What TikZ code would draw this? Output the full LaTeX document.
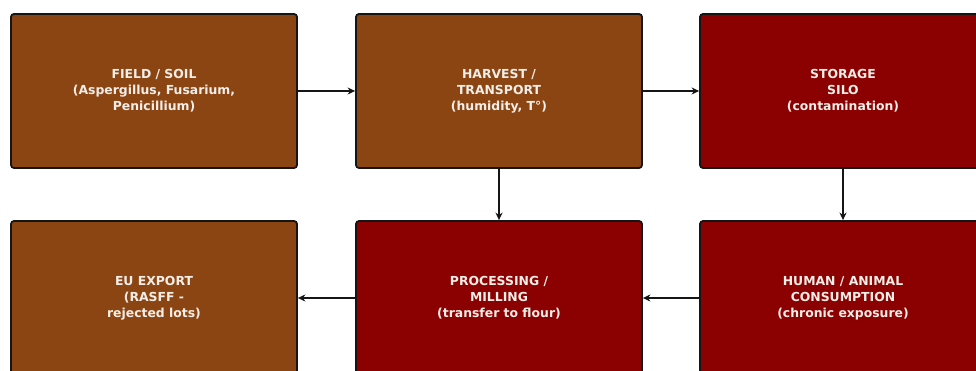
\documentclass[tikz,border=0pt]{standalone}
\usepackage{fontspec}
\setsansfont{DejaVu Sans}
\newcommand{\boxfont}{\sffamily\bfseries}
\usepackage{tikz}
\usetikzlibrary{arrows.meta,positioning}
\definecolor{soil}{HTML}{8B4513}
\definecolor{risk}{HTML}{8B0000}
\definecolor{ink}{HTML}{151515}
\definecolor{paper}{HTML}{F4EEE8}
\tikzset{
  stage/.style={draw=ink, line width=1.8pt, rounded corners=3pt,
                minimum width=286pt, minimum height=154pt, inner sep=0pt,
                align=center, text=paper,
                font=\boxfont\fontsize{12.4}{16}\selectfont},
  soilb/.style={stage, fill=soil},
  riskb/.style={stage, fill=risk},
  ar/.style={-{Stealth[length=7.5pt,width=7pt]}, line width=1.8pt, draw=ink},
}
\begin{document}
\begin{tikzpicture}
\useasboundingbox (0,0) rectangle (976pt,-371pt);
\clip (0,0) rectangle (976pt,-371pt);
\node[soilb] (field) at (154pt,-91pt) {FIELD / SOIL\\(Aspergillus, Fusarium,\\Penicillium)};
\node[soilb, right=57.2pt of field] (harvest) {HARVEST /\\TRANSPORT\\(humidity, T°)};
\node[riskb, right=56.2pt of harvest] (silo) {STORAGE\\SILO\\(contamination)};
\node[riskb, below=51.2pt of harvest] (mill) {PROCESSING /\\MILLING\\(transfer to flour)};
\node[riskb, below=51.2pt of silo] (consume) {HUMAN / ANIMAL\\CONSUMPTION\\(chronic exposure)};
\node[soilb, below=51.2pt of field] (export) {EU EXPORT\\(RASFF -\\rejected lots)};

\draw[ar] (field) -- (harvest);
\draw[ar] (harvest) -- (silo);
\draw[ar] (harvest) -- (mill);
\draw[ar] (silo) -- (consume);
\draw[ar] (consume) -- (mill);
\draw[ar] (mill) -- (export);
\end{tikzpicture}
\end{document}
